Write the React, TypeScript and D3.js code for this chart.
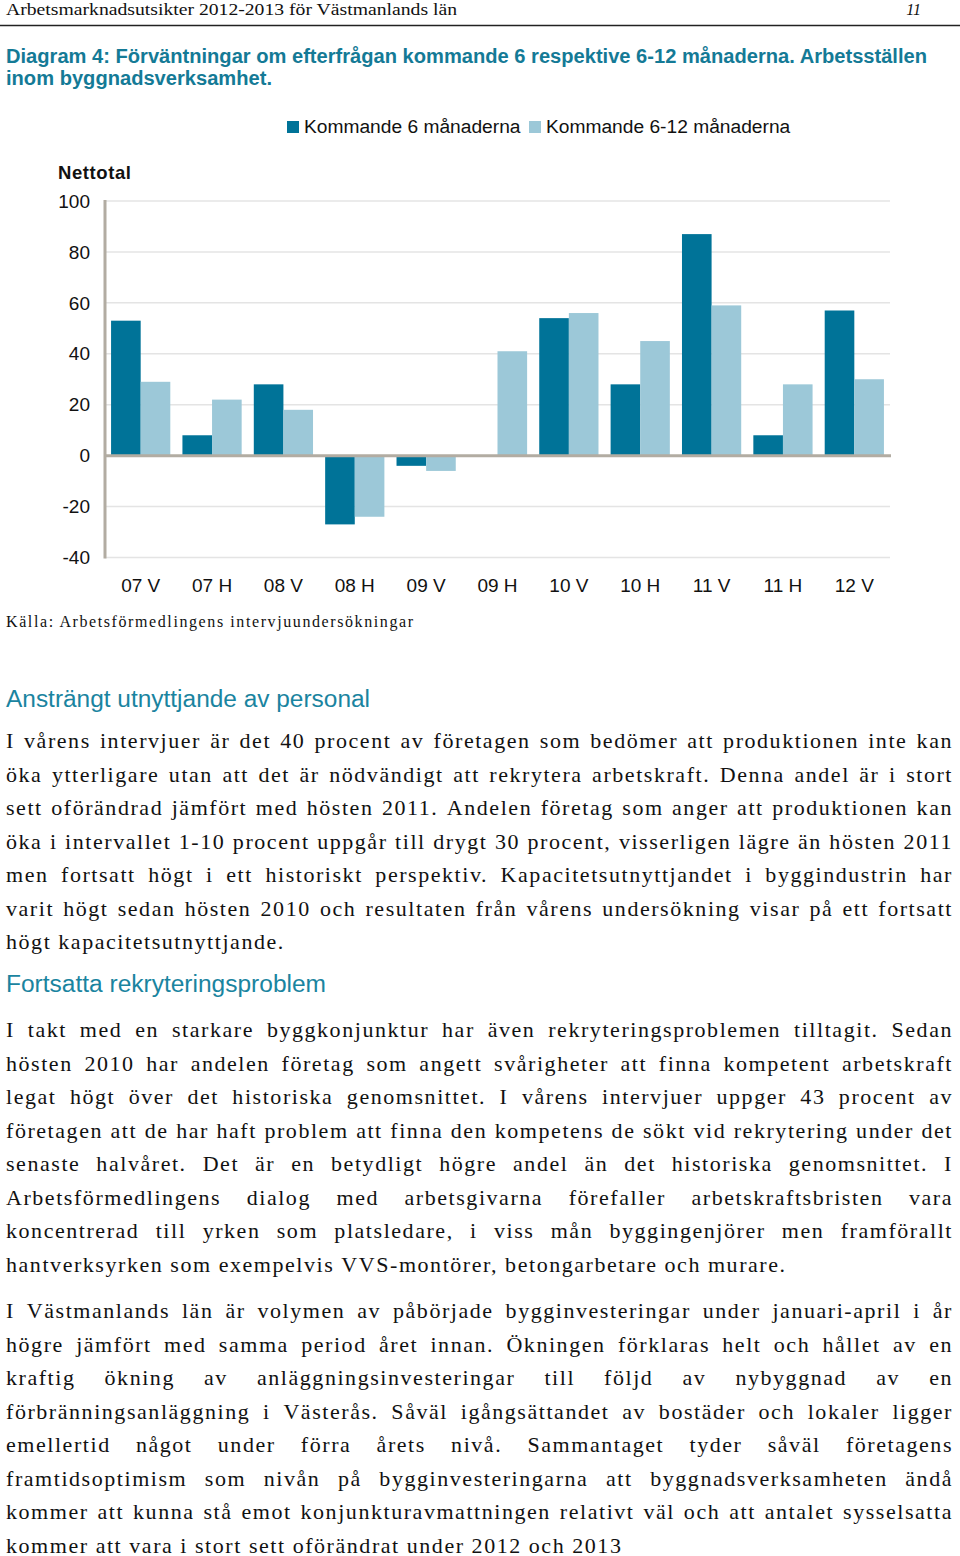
import React, { useRef, useEffect } from "react";
import * as d3 from "d3";

// typsnitt
const sans = "'Liberation Sans', Arial, sans-serif";
const serif = "'Liberation Serif', 'Times New Roman', serif";

// färger
const darkBar = "#007398";
const lightBar = "#9cc8d8";
const axisColor = "#b2aca2";
const gridColor = "#e4e4e4";
const titleColor = "#147a96";
const headColor = "#1a84a0";

// data
const categories = ["07 V", "07 H", "08 V", "08 H", "09 V", "09 H", "10 V", "10 H", "11 V", "11 H", "12 V"];
const next6 = [53, 8, 28, -27, -4, null, 54, 28, 87, 8, 57];
const next6to12 = [29, 22, 18, -24, -6, 41, 56, 45, 59, 28, 30];
const seriesNames = ["Kommande 6 månaderna", "Kommande 6-12 månaderna"];
const yTicks = [100, 80, 60, 40, 20, 0, -20, -40];

// text
const para1 = [
  "I vårens intervjuer är det 40 procent av företagen som bedömer att produktionen inte kan",
  "öka ytterligare utan att det är nödvändigt att rekrytera arbetskraft. Denna andel är i stort",
  "sett oförändrad jämfört med hösten 2011. Andelen företag som anger att produktionen kan",
  "öka i intervallet 1-10 procent uppgår till drygt 30 procent, visserligen lägre än hösten 2011",
  "men fortsatt högt i ett historiskt perspektiv. Kapacitetsutnyttjandet i byggindustrin har",
  "varit högt sedan hösten 2010 och resultaten från vårens undersökning visar på ett fortsatt",
  "högt kapacitetsutnyttjande."
];
const para2 = [
  "I takt med en starkare byggkonjunktur har även rekryteringsproblemen tilltagit. Sedan",
  "hösten 2010 har andelen företag som angett svårigheter att finna kompetent arbetskraft",
  "legat högt över det historiska genomsnittet. I vårens intervjuer uppger 43 procent av",
  "företagen att de har haft problem att finna den kompetens de sökt vid rekrytering under det",
  "senaste halvåret. Det är en betydligt högre andel än det historiska genomsnittet. I",
  "Arbetsförmedlingens dialog med arbetsgivarna förefaller arbetskraftsbristen vara",
  "koncentrerad till yrken som platsledare, i viss mån byggingenjörer men framförallt",
  "hantverksyrken som exempelvis VVS-montörer, betongarbetare och murare."
];
const para3 = [
  "I Västmanlands län är volymen av påbörjade bygginvesteringar under januari-april i år",
  "högre jämfört med samma period året innan. Ökningen förklaras helt och hållet av en",
  "kraftig ökning av anläggningsinvesteringar till följd av nybyggnad av en",
  "förbränningsanläggning i Västerås. Såväl igångsättandet av bostäder och lokaler ligger",
  "emellertid något under förra årets nivå. Sammantaget tyder såväl företagens",
  "framtidsoptimism som nivån på bygginvesteringarna att byggnadsverksamheten ändå",
  "kommer att kunna stå emot konjunkturavmattningen relativt väl och att antalet sysselsatta",
  "kommer att vara i stort sett oförändrat under 2012 och 2013"
];

export default function App() {
  const ref = useRef<SVGSVGElement>(null);

  useEffect(() => {
    document.body.style.margin = "0";
    const width = 960;
    const height = 1556;
    const svg = d3.select(ref.current);
    svg.selectAll("*").remove();
    svg.attr("width", width).attr("height", height).style("background", "#fff");

    // sidhuvud
    svg.append("text")
      .attr("x", 6).attr("y", 15)
      .attr("font-family", serif).attr("font-size", 16).attr("fill", "#111")
      .attr("textLength", 451).attr("lengthAdjust", "spacingAndGlyphs")
      .text("Arbetsmarknadsutsikter 2012-2013 för Västmanlands län");
    svg.append("text")
      .attr("x", 921).attr("y", 15).attr("text-anchor", "end")
      .attr("font-family", serif).attr("font-size", 16).attr("font-style", "italic").attr("fill", "#111")
      .text("11");
    svg.append("line")
      .attr("x1", 0).attr("x2", 960).attr("y1", 25.5).attr("y2", 25.5)
      .attr("stroke", "#222").attr("stroke-width", 1.5);

    // rubrik
    const titleLines = [
      { t: "Diagram 4: Förväntningar om efterfrågan kommande 6 respektive 6-12 månaderna. Arbetsställen", w: 921, y: 63 },
      { t: "inom byggnadsverksamhet.", w: 266, y: 85 }
    ];
    titleLines.forEach(l => {
      svg.append("text")
        .attr("x", 6).attr("y", l.y)
        .attr("font-family", sans).attr("font-size", 19.5).attr("font-weight", "bold").attr("fill", titleColor)
        .attr("textLength", l.w).attr("lengthAdjust", "spacingAndGlyphs")
        .text(l.t);
    });

    // diagram
    const left = 105, right = 890;
    const y = d3.scaleLinear().domain([-40, 100]).range([557.5, 201]);
    const x0 = d3.scaleBand().domain(categories).range([left, right]).paddingInner(0.17).paddingOuter(0.085);
    const x1 = d3.scaleBand().domain(["a", "b"]).range([0, x0.bandwidth()]);

    // legend
    const legend = [
      { name: seriesNames[0], color: darkBar, x: 287 },
      { name: seriesNames[1], color: lightBar, x: 529 }
    ];
    legend.forEach(l => {
      svg.append("rect").attr("x", l.x).attr("y", 121).attr("width", 12).attr("height", 12).attr("fill", l.color);
      svg.append("text")
        .attr("x", l.x + 17).attr("y", 132.5)
        .attr("font-family", sans).attr("font-size", 19.2).attr("fill", "#111")
        .text(l.name);
    });

    svg.append("text")
      .attr("x", 58).attr("y", 179)
      .attr("font-family", sans).attr("font-size", 18.5).attr("font-weight", "bold").attr("fill", "#111")
      .attr("textLength", 73).attr("lengthAdjust", "spacing")
      .text("Nettotal");

    // rutnät
    svg.append("g")
      .selectAll("line")
      .data(yTicks.filter(d => d !== 0))
      .join("line")
      .attr("x1", left).attr("x2", right)
      .attr("y1", d => y(d)).attr("y2", d => y(d))
      .attr("stroke", gridColor).attr("stroke-width", 1.5);

    svg.append("g")
      .selectAll("text")
      .data(yTicks)
      .join("text")
      .attr("x", 90).attr("y", d => y(d)).attr("dy", "0.35em")
      .attr("text-anchor", "end")
      .attr("font-family", sans).attr("font-size", 19).attr("fill", "#111")
      .text(d => d);

    // staplar
    const rows = categories.map((c, i) => ({ c, a: next6[i], b: next6to12[i] }));
    const groups = svg.append("g")
      .selectAll("g")
      .data(rows)
      .join("g")
      .attr("transform", d => `translate(${x0(d.c)},0)`);
    groups.selectAll("rect")
      .data(d => [
        { k: "a", v: d.a, color: darkBar },
        { k: "b", v: d.b, color: lightBar }
      ].filter(e => e.v !== null))
      .join("rect")
      .attr("x", e => x1(e.k))
      .attr("width", x1.bandwidth())
      .attr("y", e => y(Math.max(0, e.v)))
      .attr("height", e => Math.abs(y(e.v) - y(0)))
      .attr("fill", e => e.color);

    // axlar
    svg.append("line")
      .attr("x1", left).attr("x2", right + 1)
      .attr("y1", y(0)).attr("y2", y(0))
      .attr("stroke", axisColor).attr("stroke-width", 3);
    svg.append("line")
      .attr("x1", left).attr("x2", left)
      .attr("y1", y(100) - 1).attr("y2", y(-40) + 1)
      .attr("stroke", axisColor).attr("stroke-width", 3);

    svg.append("g")
      .selectAll("text")
      .data(categories)
      .join("text")
      .attr("x", d => x0(d) + x0.bandwidth() / 2)
      .attr("y", 592)
      .attr("text-anchor", "middle")
      .attr("font-family", sans).attr("font-size", 19).attr("fill", "#111")
      .text(d => d);

    svg.append("text")
      .attr("x", 6).attr("y", 627)
      .attr("font-family", serif).attr("font-size", 16).attr("fill", "#111")
      .attr("textLength", 407).attr("lengthAdjust", "spacing")
      .text("Källa: Arbetsförmedlingens intervjuundersökningar");

    // mellanrubriker
    const heads = [
      { t: "Ansträngt utnyttjande av personal", y: 707, w: 364 },
      { t: "Fortsatta rekryteringsproblem", y: 992, w: 320 }
    ];
    heads.forEach(h => {
      svg.append("text")
        .attr("x", 6).attr("y", h.y)
        .attr("font-family", sans).attr("font-size", 23).attr("fill", headColor)
        .attr("textLength", h.w).attr("lengthAdjust", "spacingAndGlyphs")
        .text(h.t);
    });

    // brödtext, marginaljusterad
    const bodySize = 22;
    const spacing = 1.55;
    const step = 33.5;
    const textLeft = 6, textRight = 953;
    const drawParagraph = (lines: string[], startY: number) => {
      const g = svg.append("g")
        .attr("font-family", serif).attr("font-size", bodySize)
        .attr("letter-spacing", spacing).attr("fill", "#111");
      lines.forEach((line, i) => {
        const ly = startY + i * step;
        const words = line.split(" ");
        const nodes = words.map(w => g.append("text").attr("y", ly).text(w));
        const widths = nodes.map(n => (n.node() as SVGTextElement).getComputedTextLength());
        const total = d3.sum(widths);
        const last = i === lines.length - 1;
        const gap = last || words.length < 2 ? 7 : (textRight - textLeft - total) / (words.length - 1);
        let x = textLeft;
        nodes.forEach((n, k) => {
          n.attr("x", x);
          x += widths[k] + gap;
        });
      });
    };
    drawParagraph(para1, 748);
    drawParagraph(para2, 1037);
    drawParagraph(para3, 1318);
  }, []);

  return <svg ref={ref} width={960} height={1556} style={{ display: "block" }}></svg>;
}
